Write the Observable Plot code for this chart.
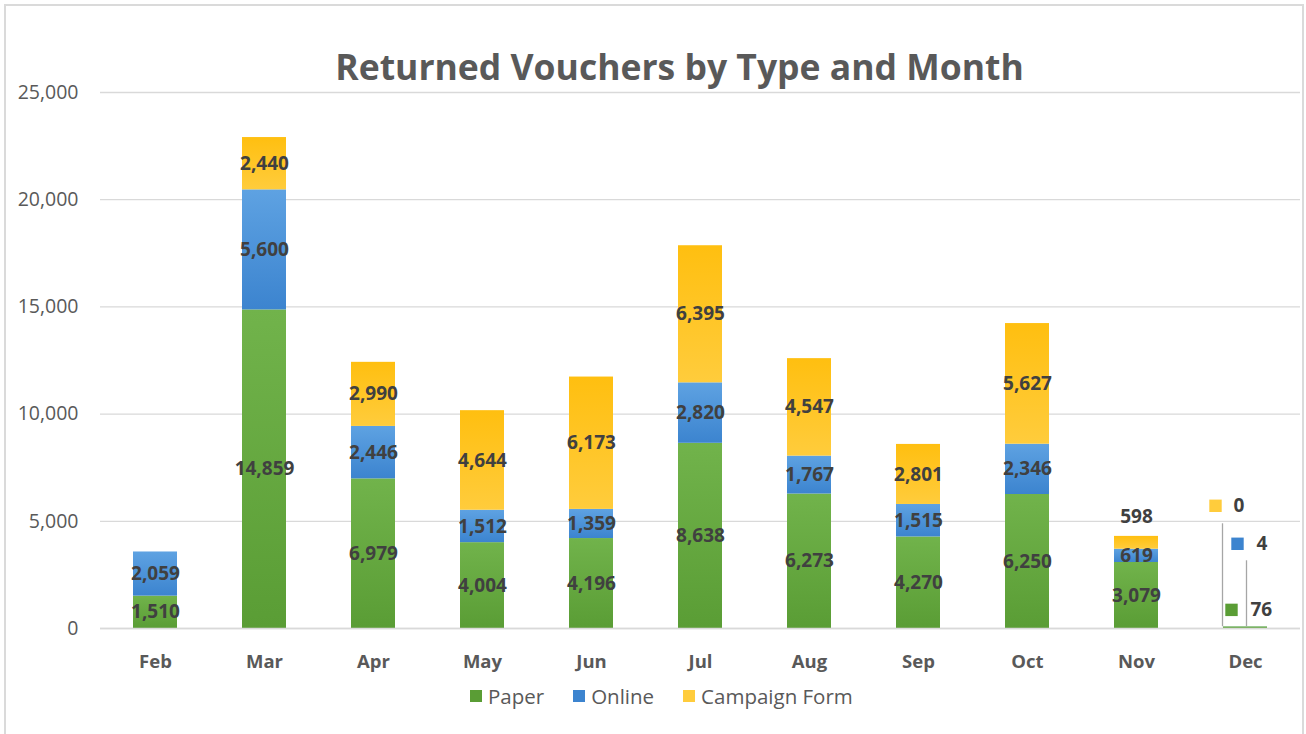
<!DOCTYPE html>
<html>
<head>
<meta charset="utf-8">
<script src="https://cdn.jsdelivr.net/npm/d3@7"></script>
<script src="https://cdn.jsdelivr.net/npm/@observablehq/plot@0.6"></script>
<style>
  html, body { margin: 0; padding: 0; background: #fff; }
  body { width: 1306px; height: 734px; overflow: hidden; position: relative; font-family: "Open Sans", sans-serif; }
  #frame { position: absolute; left: 4px; top: 4px; width: 1296px; height: 740px; border: 2px solid #dadada; border-bottom: none; }
  #title { position: absolute; left: 0; top: 44px; width: 1306px; text-align: center; padding-left: 53px; box-sizing: border-box;
           font-size: 35.5px; font-weight: 700; color: #595959; line-height: 44px; }
  #chart { position: absolute; left: 0; top: 80px; }
  #legend { position: absolute; left: 470px; top: 682px; display: flex; align-items: center; font-size: 20.5px; color: #595959; }
  #legend .item { display: flex; align-items: center; margin-right: 29px; }
  #legend .sw { width: 12px; height: 12px; margin-right: 6px; }
</style>
</head>
<body>
<div id="frame"></div>
<div id="title">Returned Vouchers by Type and Month</div>
<div id="chart"></div>
<div id="legend"></div>
<script>
// ---- data ----
const months = ["Feb", "Mar", "Apr", "May", "Jun", "Jul", "Aug", "Sep", "Oct", "Nov", "Dec"];
const seriesNames = ["Paper", "Online", "Campaign Form"];
const paper = [1510, 14859, 6979, 4004, 4196, 8638, 6273, 4270, 6250, 3079, 76];
const online = [2059, 5600, 2446, 1512, 1359, 2820, 1767, 1515, 2346, 619, 4];
const campaign = [null, 2440, 2990, 4644, 6173, 6395, 4547, 2801, 5627, 598, 0];
const yTicks = [0, 5000, 10000, 15000, 20000, 25000];

// ---- styles ----
const colors = {"Paper": ["#71b34b", "#5a9d35"], "Online": ["#5ea2e2", "#3c84cf"], "Campaign Form": ["#ffbf10", "#ffcc3c"]};
const gradId = {"Paper": "gPaper", "Online": "gOnline", "Campaign Form": "gCampaign"};
const font = "Open Sans, sans-serif";
const W = 1306, H = 610, mT = 12, mB = 62, mL = 100, mR = 6;
const yMax = 25000;
const pxPerUnit = (H - mT - mB) / yMax;

// ---- table ----
const seriesValues = [paper, online, campaign];
const rows = [];
months.forEach((m, i) => {
  let cum = 0;
  seriesNames.forEach((s, j) => {
    const v = seriesValues[j][i];
    const val = v == null ? 0 : v;
    rows.push({month: m, series: s, value: v, y1: cum, y2: cum + val, mid: cum + val / 2, last: j === seriesNames.length - 1});
    cum += val;
  });
});
const fmt = d3.format(",");
const isDec = d => d.month === "Dec";
const small = d => d.last && d.value != null && d.value < 800;
const normalLabels = rows.filter(d => !isDec(d) && d.value != null && !small(d));
const aboveLabels = rows.filter(d => !isDec(d) && small(d));
const dec = s => rows.filter(d => isDec(d) && d.series === s);

// Dec label placement (pixel offsets from the top of the Dec stack)
const decStyle = {
  "Paper": {dy: -17, markDx: -14, textDx: 5},
  "Online": {dy: -83, markDx: -8, textDx: 11, leadDx: 1, lead: 66},
  "Campaign Form": {dy: -121, markDx: -30, textDx: -12, leadDx: -23, lead: 103}
};

const defs = () => {
  const d = d3.create("svg:defs");
  seriesNames.forEach(s => {
    const g = d.append("linearGradient").attr("id", gradId[s]).attr("x1", 0).attr("y1", 0).attr("x2", 0).attr("y2", 1);
    g.append("stop").attr("offset", "0%").attr("stop-color", colors[s][0]);
    g.append("stop").attr("offset", "100%").attr("stop-color", colors[s][1]);
  });
  return d.node();
};

const decMarks = [];
seriesNames.forEach(s => {
  const st = decStyle[s];
  const data = dec(s);
  if (st.lead) {
    decMarks.push(Plot.ruleX(data, {x: "month", y1: "y2", y2: d => d.y2 + st.lead / pxPerUnit, dx: st.leadDx, stroke: "#a6a6a6", strokeWidth: 1.3}));
  }
  decMarks.push(Plot.dot(data, {x: "month", y: "y2", dy: st.dy, dx: st.markDx, symbol: "square", r: 7, fill: colors[s][1], stroke: "none"}));
  decMarks.push(Plot.text(data, {x: "month", y: "y2", dy: st.dy, dx: st.textDx, text: d => fmt(d.value), textAnchor: "start",
    fontSize: 19, fontWeight: 700, fill: "#404040"}));
});

const chart = Plot.plot({
  width: W, height: H,
  marginTop: mT, marginBottom: mB, marginLeft: mL, marginRight: mR,
  style: {fontFamily: font, background: "transparent", overflow: "visible"},
  x: {domain: months, paddingInner: 0.6, paddingOuter: 0.3, label: null},
  y: {domain: [0, yMax], label: null},
  marks: [
    defs,
    Plot.gridY(yTicks, {stroke: "#d9d9d9", strokeOpacity: 1, strokeWidth: 1.3}),
    Plot.axisY(yTicks, {tickSize: 0, tickPadding: 22, tickFormat: fmt, fontSize: 19.5, fill: "#595959", label: null}),
    Plot.axisX({tickSize: 0, tickPadding: 26, fontSize: 18.5, fontWeight: 700, fill: "#595959", label: null}),
    Plot.barY(rows.filter(d => d.y2 > d.y1), {x: "month", y1: "y1", y2: "y2", fill: d => `url(#${gradId[d.series]})`}),
    Plot.ruleY([0], {stroke: "#d9d9d9", strokeWidth: 1.3}),
    Plot.text(normalLabels, {x: "month", y: "mid", text: d => fmt(d.value), fontSize: 19, fontWeight: 700, fill: "#404040"}),
    Plot.text(aboveLabels, {x: "month", y: "y2", dy: -19, text: d => fmt(d.value), fontSize: 19, fontWeight: 700, fill: "#404040"}),
    ...decMarks
  ]
});
document.getElementById("chart").appendChild(chart);

// legend
const legend = document.getElementById("legend");
seriesNames.forEach(s => {
  const it = document.createElement("div");
  it.className = "item";
  const sw = document.createElement("div");
  sw.className = "sw";
  sw.style.background = colors[s][1];
  const t = document.createElement("span");
  t.textContent = s;
  it.appendChild(sw); it.appendChild(t);
  legend.appendChild(it);
});
</script>
</body>
</html>
